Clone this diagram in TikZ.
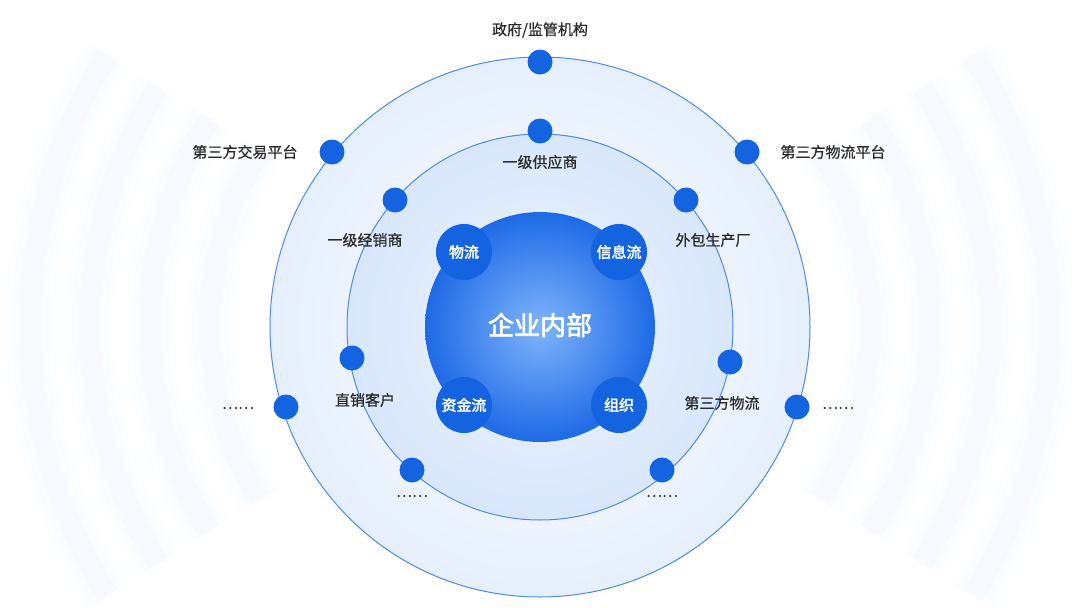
\documentclass[tikz,border=0pt]{standalone}
\usepackage{fontspec}
\setmainfont{Noto Sans CJK SC}
\newfontfamily\cjkb[FakeBold=2.5]{Noto Sans CJK SC}
\newfontfamily\cjkm[FakeBold=0.6]{Noto Sans CJK SC}
\definecolor{dotb}{HTML}{1463E0}
\definecolor{ringline}{HTML}{4F8AE6}
\definecolor{outerf}{HTML}{EEF4FD}
\definecolor{midf}{HTML}{D8E7FB}
\definecolor{coreA}{HTML}{7FB4FA}
\definecolor{coreB}{HTML}{1E6AE6}
\definecolor{txt}{HTML}{2A2A2A}
\tikzset{
 dot/.style={circle,fill=dotb,minimum size=25pt,inner sep=0pt},
 sat/.style={circle,fill=dotb,minimum size=56pt,inner sep=0pt,text=white,font=\cjkb\fontsize{15}{15}\selectfont},
 lbl/.style={text=txt,font=\cjkm\fontsize{15}{15}\selectfont},
 ring/.style={draw=ringline,line width=1pt}
}
\begin{document}
\begin{tikzpicture}[x=1pt,y=-1pt]
\useasboundingbox (0,0) rectangle (1080,608);
% faint background rings
\foreach \r in {330,390,450,510}{
 \foreach \w/\o in {50/0.012,36/0.015,22/0.02}{
 \draw[line width=\w pt,color=ringline,opacity=\o] (540,325) ++(148:\r) arc[start angle=148,end angle=212,radius=\r];
 \draw[line width=\w pt,color=ringline,opacity=\o] (540,325) ++(-32:\r) arc[start angle=-32,end angle=32,radius=\r];
 }
}
\node[circle,ring,inner color=white,outer color=outerf!60!midf,minimum size=540pt] (outer) at (540,327) {};
\node[circle,ring,inner color=outerf,outer color=midf,minimum size=386pt] (mid) at (540,327) {};
\node[circle,inner color=coreA,outer color=coreB,minimum size=230pt] (core) at (540,327) {};
\node[text=white,font=\cjkb\fontsize{26}{26}\selectfont] (ct) at (540,325) {企业内部};
\node[sat] (s1) at (464,252) {物流};
\node[sat] (s2) at (619,252) {信息流};
\node[sat] (s3) at (464,405) {资金流};
\node[sat] (s4) at (619,405) {组织};
% outer dots
\node[dot] (o1) at (540,62) {};
\node[dot] (o2) at (332,152) {};
\node[dot] (o3) at (747,152) {};
\node[dot] (o4) at (286,407) {};
\node[dot] (o5) at (797,407) {};
% middle dots
\node[dot] (m1) at (540,131) {};
\node[dot] (m2) at (395,200) {};
\node[dot] (m3) at (686,200) {};
\node[dot] (m4) at (352,358) {};
\node[dot] (m5) at (730,362) {};
\node[dot] (m6) at (412,470) {};
\node[dot] (m7) at (662,470) {};
% labels
\node[lbl] (l1) at (540,30) {政府/监管机构};
\node[lbl] (l2) at (245,152) {第三方交易平台};
\node[lbl] (l3) at (833,152) {第三方物流平台};
\node[lbl] (l4) at (238,408) {……};
\node[lbl] (l5) at (838,408) {……};
\node[lbl] (l6) at (540,162) {一级供应商};
\node[lbl] (l7) at (365,240) {一级经销商};
\node[lbl] (l8) at (713,240) {外包生产厂};
\node[lbl] (l9) at (365,400) {直销客户};
\node[lbl] (l10) at (722,403) {第三方物流};
\node[lbl] (l11) at (412,496) {……};
\node[lbl] (l12) at (662,496) {……};
\end{tikzpicture}
\end{document}
